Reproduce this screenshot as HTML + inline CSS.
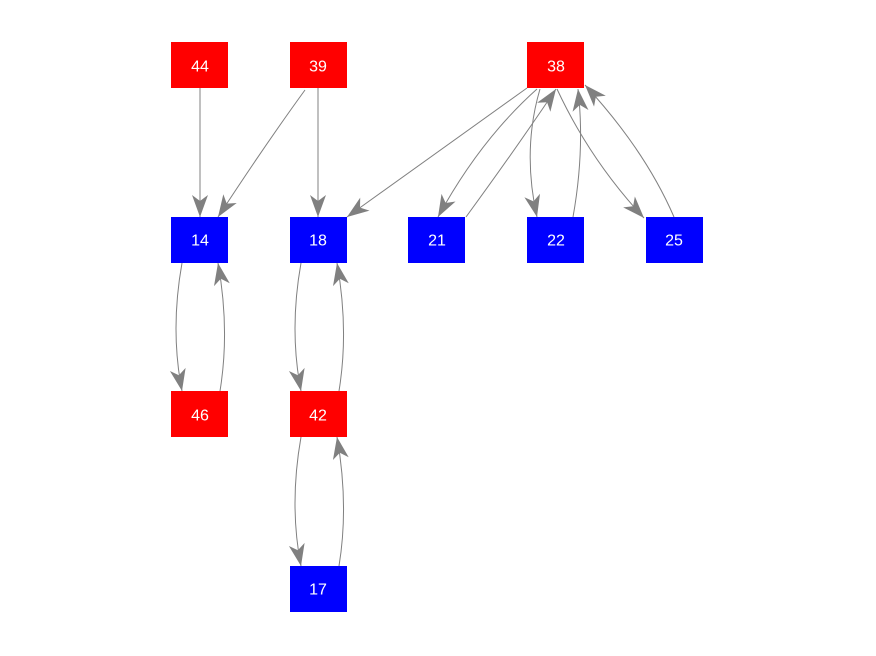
<!DOCTYPE html>
<html><head><style>
html,body{margin:0;padding:0;background:#fff;width:876px;height:656px;overflow:hidden}
text{font-family:"Liberation Sans",sans-serif;font-size:16px;fill:#fff;text-anchor:middle;dominant-baseline:central}
</style></head><body>
<svg width="876" height="656" xmlns="http://www.w3.org/2000/svg">
<defs>
<marker id="a" markerUnits="userSpaceOnUse" markerWidth="26" markerHeight="20" refX="22" refY="8" orient="auto" overflow="visible">
<path d="M0,0 L22,8 L0,16 L6,8 z" fill="#808080"/>
</marker>
</defs>
<g stroke="#808080" stroke-width="1" fill="none" marker-end="url(#a)">
<path d="M200,88 L200,217"/>
<path d="M305,90 Q265,145 218,217"/>
<path d="M318,88 L318,217"/>
<path d="M527,88 L347,217"/>
<path d="M537,89 Q480,140 438,217"/>
<path d="M466,217 Q515,150 556,89"/>
<path d="M540,89 Q522,150 537,217"/>
<path d="M573,217 Q585,150 578,89"/>
<path d="M557,89 Q590,160 644,218"/>
<path d="M674,217 Q645,150 585,85"/>
<path d="M182,263 Q170,330 182,391"/>
<path d="M220,391 Q230,330 218,263"/>
<path d="M301,263 Q289,330 301,391"/>
<path d="M339,391 Q349,330 337,263"/>
<path d="M301,437 Q289,505 301,566"/>
<path d="M339,566 Q349,505 337,437"/>
</g>
<g>
<rect x="171" y="42" width="57" height="46" fill="#f00"/><text x="200" y="67">44</text>
<rect x="290" y="42" width="57" height="46" fill="#f00"/><text x="318" y="67">39</text>
<rect x="527" y="42" width="57" height="46" fill="#f00"/><text x="556" y="67">38</text>
<rect x="171" y="217" width="57" height="46" fill="#00f"/><text x="200" y="241">14</text>
<rect x="290" y="217" width="57" height="46" fill="#00f"/><text x="318" y="241">18</text>
<rect x="408" y="217" width="57" height="46" fill="#00f"/><text x="437" y="241">21</text>
<rect x="527" y="217" width="57" height="46" fill="#00f"/><text x="556" y="241">22</text>
<rect x="646" y="217" width="57" height="46" fill="#00f"/><text x="674" y="241">25</text>
<rect x="171" y="391" width="57" height="46" fill="#f00"/><text x="200" y="416">46</text>
<rect x="290" y="391" width="57" height="46" fill="#f00"/><text x="318" y="416">42</text>
<rect x="290" y="566" width="57" height="46" fill="#00f"/><text x="318" y="590">17</text>
</g>
</svg>
</body></html>
